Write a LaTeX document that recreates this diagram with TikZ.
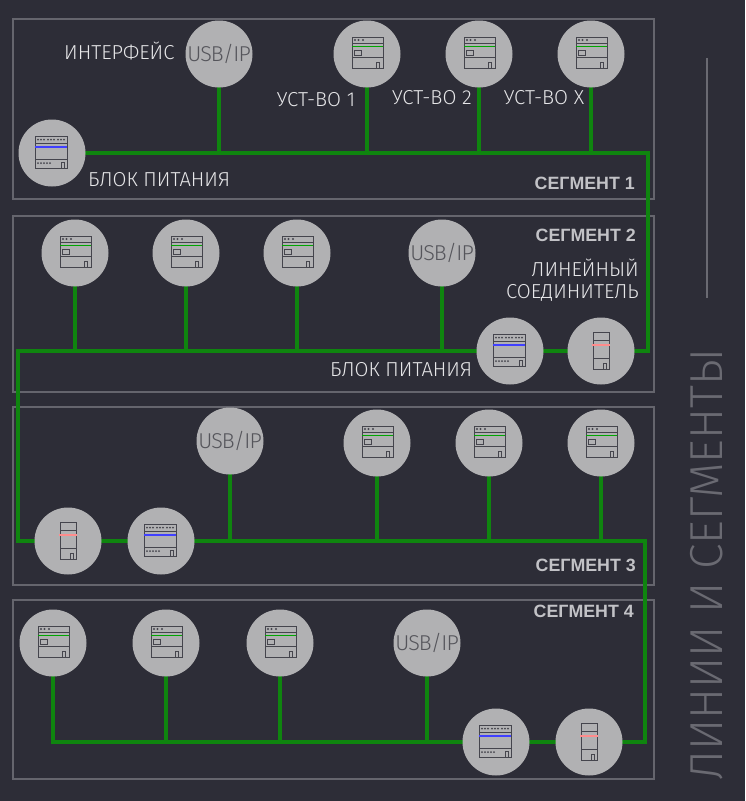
\documentclass[tikz,border=0pt]{standalone}
\usepackage{fontspec}
\setmainfont{Fira Sans Light}
\newfontfamily\boldf{Liberation Sans Bold}
\usetikzlibrary{backgrounds}
\definecolor{bgc}{HTML}{2D2D37}
\definecolor{framec}{HTML}{65656D}
\definecolor{discc}{HTML}{B1B1B3}
\definecolor{iconc}{HTML}{45454D}
\definecolor{busc}{HTML}{0F850F}
\definecolor{txtc}{HTML}{E6E6E8}
\definecolor{boldc}{HTML}{C2C2C6}
\definecolor{usbc}{HTML}{55555B}
\definecolor{titlec}{HTML}{6A6A72}
\tikzset{
  x=1pt,y=-1pt,
  seg/.style={draw=framec,line width=1.1pt},
  disc/.style={circle,fill=discc,minimum size=67pt,inner sep=0pt,outer sep=0pt},
  usb/.style={disc,text=usbc,font=\fontsize{21.5}{22}\selectfont\addfontfeature{LetterSpace=-4}},
  bus/.style={draw=busc,line width=4pt,line join=miter},
  lab/.style={text=txtc,font=\fontsize{20.2}{22}\selectfont,inner sep=0pt},
  seglab/.style={text=boldc,font=\boldf\fontsize{17.8}{18}\selectfont,inner sep=0pt},
  ic/.style={draw=iconc,line width=.9pt},
  pics/devicon/.style={code={
    \draw[ic] (-15,-17) rectangle (16,14);
    \draw[ic] (-15,-11) -- (16,-11);
    \draw[ic] (-15,3) -- (16,3);
    \draw[draw=green!65!black,line width=1.1pt] (-15,-7.5) -- (16,-7.5);
    \draw[ic] (-13,-3.5) rectangle (-6,1);
    \draw[ic] (9,8) rectangle (12.5,14);
    \foreach \q in {-12,-8.5,-4}{\fill[iconc] (\q,-14) circle (1.2);}
  }},
  pics/pwricon/.style={code={
    \draw[ic] (-17,-17) rectangle (15,15);
    \draw[ic] (-17,-10) -- (15,-10);
    \draw[ic] (-17,6) -- (15,6);
    \draw[draw=blue!75!white,line width=1.1pt] (-17,-6) -- (15,-6);
    \draw[ic] (9,9) rectangle (12,15);
    \foreach \q in {-14,-11,-8,-4,-1,2,6,9,12}{\fill[iconc] (\q,-13.5) circle (1);}
    \foreach \q in {-14,-11,-8,-5,-2}{\fill[iconc] (\q,10) circle (1);}
  }},
  pics/cplicon/.style={code={
    \draw[ic] (-8,-19) rectangle (8,18);
    \draw[ic] (-8,-11) -- (8,-11);
    \draw[ic] (-8,7) -- (8,7);
    \draw[draw=red!45!white,line width=1.6pt] (-9,-6) -- (9,-6);
    \draw[ic] (2,12) rectangle (5,18);
  }},
}
\begin{document}
\begin{tikzpicture}
\useasboundingbox (0,0) rectangle (745,801);
% discs, first row: segment 1
\node[usb] (u1) at (219,54) {USB/IP};
\node[disc] (d11) at (367,54) {}; \pic at (d11) {devicon};
\node[disc] (d12) at (479,54) {}; \pic at (d12) {devicon};
\node[disc] (d13) at (591,54) {}; \pic at (d13) {devicon};
\node[disc] (p1) at (52,153) {}; \pic at (p1) {pwricon};
% segment 2
\node[disc] (d21) at (75,253) {}; \pic at (d21) {devicon};
\node[disc] (d22) at (186,253) {}; \pic at (d22) {devicon};
\node[disc] (d23) at (297,253) {}; \pic at (d23) {devicon};
\node[usb] (u2) at (442,253) {USB/IP};
\node[disc] (p2) at (510,351) {}; \pic at (p2) {pwricon};
\node[disc] (c2) at (601,351) {}; \pic at (c2) {cplicon};
% segment 3
\node[usb] (u3) at (230,441) {USB/IP};
\node[disc] (d31) at (377,443) {}; \pic at (d31) {devicon};
\node[disc] (d32) at (489,443) {}; \pic at (d32) {devicon};
\node[disc] (d33) at (601,443) {}; \pic at (d33) {devicon};
\node[disc] (c3) at (68,541) {}; \pic at (c3) {cplicon};
\node[disc] (p3) at (161,541) {}; \pic at (p3) {pwricon};
% segment 4
\node[disc] (d41) at (53,643) {}; \pic at (d41) {devicon};
\node[disc] (d42) at (166,643) {}; \pic at (d42) {devicon};
\node[disc] (d43) at (280,643) {}; \pic at (d43) {devicon};
\node[usb] (u4) at (427,643) {USB/IP};
\node[disc] (p4) at (496,742) {}; \pic at (p4) {pwricon};
\node[disc] (c4) at (589,742) {}; \pic at (c4) {cplicon};
% bus corners
\coordinate (k1) at (648,153);
\coordinate (k2) at (18,351);
\coordinate (k3) at (645,541);
% labels
\node[lab,anchor=base west] (t1) at (64,59) {ИНТЕРФЕЙС};
\node[lab,anchor=base] (t2) at (316,106) {УСТ-ВО 1};
\node[lab,anchor=base] (t3) at (432,104.5) {УСТ-ВО 2};
\node[lab,anchor=base] (t4) at (544,104.5) {УСТ-ВО X};
\node[lab,anchor=base west] (t5) at (88,186) {БЛОК ПИТАНИЯ};
\node[lab,anchor=base east] (t6) at (639,276) {ЛИНЕЙНЫЙ};
\node[lab,anchor=base east] (t7) at (639,298) {СОЕДИНИТЕЛЬ};
\node[lab,anchor=base west] (t8) at (330,376) {БЛОК ПИТАНИЯ};
\node[seglab,anchor=base east] (s1) at (635,189) {СЕГМЕНТ 1};
\node[seglab,anchor=base east] (s2) at (636,241) {СЕГМЕНТ 2};
\node[seglab,anchor=base east] (s3) at (636,571) {СЕГМЕНТ 3};
\node[seglab,anchor=base east] (s4) at (634,617) {СЕГМЕНТ 4};
% title
\coordinate (r1) at (707,58);
\coordinate (r2) at (707,298);
\draw[draw=titlec,line width=1.1pt] (r1) -- (r2);
\node[text=titlec,rotate=90,anchor=base west,inner sep=0pt,font=\fontsize{46.2}{48}\selectfont] (title) at (722,781) {ЛИНИИ И СЕГМЕНТЫ};
\begin{pgfonlayer}{background}
\fill[bgc] (0,0) rectangle (745,801);
\draw[seg] (13,19) rectangle (654,199);
\draw[seg] (13,216) rectangle (654,392);
\draw[seg] (13,407) rectangle (654,585);
\draw[seg] (13,600) rectangle (654,779);
% bus segment 1 + link to coupler 2
\draw[bus] (p1.center) -- (k1) -- (k1 |- c2) -- (c2.center);
\foreach \n in {u1,d11,d12,d13}{\draw[bus] (\n.center) -- (\n.center |- p1);}
% bus segment 2 + link to coupler 3
\draw[bus] (c2.center) -- (k2 |- c2) -- (k2 |- c3) -- (c3.center);
\foreach \n in {d21,d22,d23,u2}{\draw[bus] (\n.center) -- (\n.center |- c2);}
% bus segment 3 + link to coupler 4
\draw[bus] (c3.center) -- (k3) -- (k3 |- c4) -- (c4.center);
\foreach \n in {u3,d31,d32,d33}{\draw[bus] (\n.center) -- (\n.center |- k3);}
% bus segment 4
\draw[bus] (d41.center) -- (d41.center |- c4) -- (c4.center);
\foreach \n in {d42,d43,u4}{\draw[bus] (\n.center) -- (\n.center |- c4);}
\end{pgfonlayer}
\end{tikzpicture}
\end{document}
